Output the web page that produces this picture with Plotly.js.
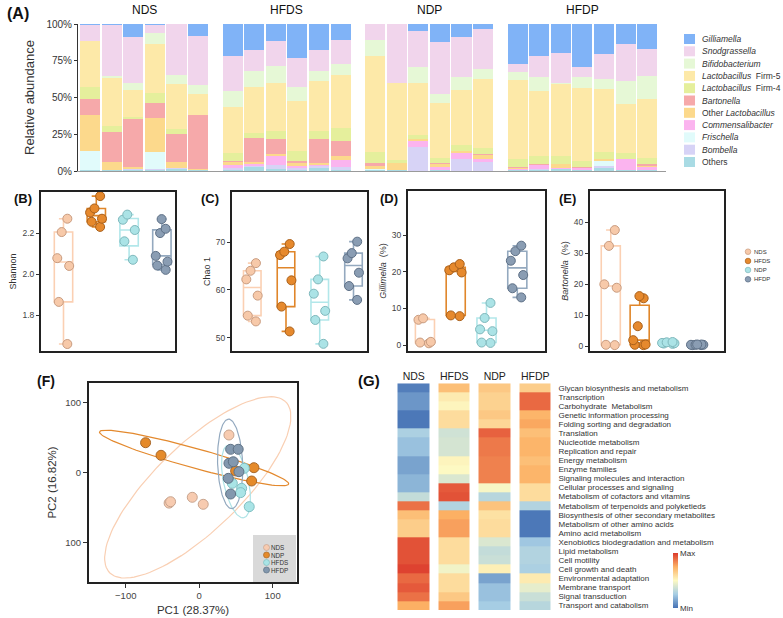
<!DOCTYPE html>
<html><head><meta charset="utf-8">
<script src="https://cdn.plot.ly/plotly-3.0.1.min.js"></script>
<style>html,body{margin:0;padding:0;background:#fff}#chart{width:783px;height:618px}</style>
</head><body><div id="chart"></div>
<script>
// ---------------- DATA ----------------
// Panel A: relative abundance (%) per sample; sample order NDS1-6, HFDS1-6, NDP1-6, HFDP1-7
const groups = ['NDS','HFDS','NDP','HFDP'];
const groupSizes = [6,6,6,7];
const gilliamella   = [1,0.7,8.7,1,0.3,8.4, 22.1,17.6,11.9,22.8,17.6,10.7, 0,0,4.6,12.3,8.9,3.2, 27.2,22.1,19.9,29,20.3,13.7,17.1];
const snodgrassella = [10.4,34.7,31.7,5.2,34.4,33.2, 23.6,14.4,16.6,19.9,14.4,16.7, 10.7,40.4,24.4,35,26.9,27.4, 5.7,14.2,20.1,6.8,17.1,24.9,18.3];
const bifidobacterium = [0,1.6,4.6,7.5,6.2,6.1, 10.7,10.7,11.9,9.6,6.6,7.3, 11,0,11,6.4,9.2,7.1, 5.2,9.1,0.5,7.6,7.1,16,15.3];
const lactoFirm5    = [31.3,32.6,18.2,32.9,30.8,13.9, 31.3,31.3,32.4,33.8,34.5,36.1, 65.5,52.1,35.8,37.6,37.6,46.8, 53.7,44.6,49,50,42.7,33.1,40.6];
const lactoFirm4    = [8.6,3.9,1.6,7.1,3,0.5, 5.2,3.6,5.3,7.3,5,8.9, 7.3,2,2.3,3.4,3.5,3.9, 5.7,5.2,5.7,4.1,4.6,4.1,3.9];
const bartonella    = [10.3,20.6,32.7,10,19.4,36.5, 1.2,16.5,10.3,1.3,16.4,10.3, 1.8,0,0,0.3,0,0.6, 0.4,0.7,0,0.7,0,0,1.1];
const otherLacto    = [24.5,5.2,1.1,23.5,4.1,0.7, 1.6,0.9,1.6,1.6,1.2,2.2, 2.3,4.6,1.8,2.5,1.6,2.8, 0.7,0,2.7,0,1.6,0,0.9];
const commensalibacter = [0,0,0,0,0,0, 2.2,1.8,5.7,1.9,1.1,5.3, 0,0,3.9,1.6,4.1,2.3, 0.5,2.7,0.5,0.9,0,7.5,1.9];
const frischella    = [13,0,0,11.4,0,0, 0,0,0,0,0,0, 0.5,0,0,0,0,0, 0,0,0,0,3.4,0,0];
const bombella      = [0.4,0.3,0.6,0.8,0.6,0.3, 1.2,0.7,2.9,0.9,0.9,1.6, 0.3,0,16,0.5,8,5.7, 0.5,0.7,0,0.5,1.4,0.3,0.5];
const others        = [0.5,0.4,0.8,0.6,1.2,0.4, 0.9,2.5,1.4,0.9,2.3,0.9, 0.6,0.9,0.2,0.4,0.2,0.2, 0.4,0.7,1.6,0.4,1.8,0.4,0.4];
const taxaLabels = ['<i>Gilliamella</i>','<i>Snodgrassella</i>','<i>Bifidobacterium</i>','<i>Lactobacillus</i>  Firm-5','<i>Lactobacillus</i>  Firm-4','<i>Bartonella</i>','Other <i>Lactobacillus</i>','<i>Commensalibacter</i>','<i>Frischella</i>','<i>Bombella</i>','Others'];
const taxaValues = [gilliamella,snodgrassella,bifidobacterium,lactoFirm5,lactoFirm4,bartonella,otherLacto,commensalibacter,frischella,bombella,others];
const taxaColors = ['#80b3f7','#f1d5ec','#e6f8d6','#fde9a8','#e5ef9c','#f6a9aa','#fcd98c','#fbb4ef','#e1fbfb','#d7d3f6','#a9dbe4'];

// Panels B-E (boxplots)
const boxGroups = ['NDS','HFDS','NDP','HFDP'];
const shannon = {NDS:[2.27,2.205,2.078,2.04,1.865,1.66], HFDS:[2.38,2.32,2.30,2.27,2.255,2.23], NDP:[2.29,2.265,2.215,2.16,2.07], HFDP:[2.268,2.221,2.2,2.089,2.061,2.042,2.021]};
const chao1   = {NDS:[65.6,64,62.2,58.8,54.6,53.4], HFDS:[69.6,68,67.3,62,56.5,51.3], NDP:[67,62.2,59.2,55.6,53.7,48.7], HFDP:[70.1,67.7,66.6,63.6,60.8,57.9]};
const gilliPct = {NDS:[7.3,6.9,0.9,0.7,0.5], HFDS:[22.1,21.2,20.4,19.8,8.1,7.9], NDP:[11.5,7.4,4.3,3.8,0.7,0.6], HFDP:[27.1,25.6,23,19.1,15.5,13]};
const bartPct  = {NDS:[37.4,32.3,19.9,18.8,0.4,0.3], HFDS:[16.1,15.4,6.4,1.9,0.4,0.3,0.5], NDP:[1.0,1.3,0.9,0.7,1.2,0.8], HFDP:[0.4,0.5,0.3,0.4,0.5,0.3,0.4]};
const boxLine  = ['#fbd0b3','#e0862a','#b2e7ea','#94a9bf'];
const boxFill  = ['#f7c9a9','#e6892d','#abe3e6','#8a9db3'];
const boxEdge  = ['#c99c80','#a9601b','#7fb8bc','#5e7086'];

// Panel F (PCA)
const pcaGroups = ['NDS','NDP','HFDS','HFDP'];
const pc1 = {NDS:[40.4,-41,-39,-9.5,5.4], NDP:[-73,-52,49.5,74.4,71.3], HFDS:[61.3,45,57.7,56.3,68], HFDP:[42.7,53,40.4,46.3,54,39.5,42.7]};
const pc2 = {NDS:[53.3,-44,-42,-35.7,-45.7], NDP:[42.3,24.3,2,6.6,-12.4], HFDS:[5.7,-15.7,-22.9,-29,-49.1], HFDP:[32.9,32.9,12.9,15.1,0.9,-8.6,-31]};
const ellCenterX = [-2,-7,50,42];
const ellCenterY = [-21.5,20.5,-13,12];
const ellSemiMajor = [171,134,53,64];
const ellSemiMinor = [60,14,17,17];
const ellAngle = [45.8,-16.2,-78.6,92];
const pcaFill = ['#f7cbb0','#e58a2a','#a9e4e6','#8398ae'];
const pcaEdge = ['#c8a48e','#a8682a','#80bfc2','#5f7285'];
const pcaLine = ['#f9cfb3','#e3892e','#aee3e6','#93a9bf'];

// Panel G (heatmap, scaled abundance)
const pathways = ['Glycan biosynthesis and metabolism','Transcription','Carbohydrate  Metabolism','Genetic information processing','Folding sorting and degradation','Translation','Nucleotide metabolism','Replication and repair','Energy metabolism','Enzyme families','Signaling molecules and interaction','Cellular processes and signaling','Metabolism of cofactors and vitamins','Metabolism of terpenoids and polyketieds','Biosynthesis of other secondary metabolites','Metabolism of other amino acids','Amino acid metabolism','Xenobiotics biodegradation and metabolism','Lipid metabolism','Cell motility','Cell growth and death','Environmental adaptation','Membrane transport','Signal transduction','Transport and catabolism'];
const heatNDS  = [-1.4,-1.2,-1.2,-1.45,-1.45,-0.7,-0.85,-0.85,-1.1,-1.1,-0.95,-0.95,-0.5,1.15,0.6,0.45,0.45,1.35,1.35,1.35,1.45,1.2,1.3,1.15,0.75];
const heatHFDS = [0.6,0.15,0.05,0.3,0.3,-0.4,-0.35,-0.35,0.05,0,-0.3,1.3,1.35,-0.65,0.75,0.85,0.85,0.3,0.3,0.3,-0.1,0.3,0.3,0.5,0.85];
const heatNDP  = [0.5,0.4,0.4,0.5,0.35,1.25,1.1,1.1,1.05,1.05,1.05,-0.05,-0.6,0.55,0.25,0.3,0.3,-0.3,-0.5,-0.45,0.1,-1.1,-0.85,-0.85,-0.75];
const heatHFDP = [0.45,1.2,1.2,0.7,0.8,0.6,0.7,0.7,0.6,0.7,0.7,0.3,0.3,-0.65,-1.45,-1.45,-1.45,-0.8,-0.65,-0.65,-0.7,0.15,-0.2,-0.45,-0.6];

// ---------------- BUILD ----------------
const W=783, H=618;
const fx = p => p/W, fy = p => 1 - p/H;
const FONT = 'Liberation Sans, Arial, Helvetica, sans-serif';
const traces = [], shapes = [], annotations = [];

// A: bar positions (group gap)
const xpos = []; const groupCenters = [];
let idx = 0;
groups.forEach((g,gi)=>{ const s=[]; for(let k=0;k<groupSizes[gi];k++){ const p=idx+k+gi*0.6; xpos.push(p); s.push(p);} idx+=groupSizes[gi]; groupCenters.push((s[0]+s[s.length-1])/2); });
for(let t=taxaValues.length-1;t>=0;t--){
  traces.push({type:'bar', x:xpos, y:taxaValues[t], width:0.93, marker:{color:taxaColors[t], line:{width:0}}, xaxis:'x', yaxis:'y', name:taxaLabels[t], hoverinfo:'y'});
}
groups.forEach((g,gi)=>annotations.push({xref:'x', yref:'paper', x:groupCenters[gi], y:fy(10), text:g, showarrow:false, font:{size:12, color:'#111'}, xanchor:'center', yanchor:'middle'}));
// A legend
taxaLabels.forEach((lab,i)=>{
  const yc = 39 + 12.3*i;
  shapes.push({type:'rect', xref:'paper', yref:'paper', x0:fx(684), x1:fx(695), y0:fy(yc-5), y1:fy(yc+5), fillcolor:taxaColors[i], line:{width:0}});
  annotations.push({xref:'paper', yref:'paper', x:fx(700), y:fy(yc), text:lab, showarrow:false, xanchor:'left', yanchor:'middle', font:{size:8.5, color:'#333'}});
});

// B-E boxplots
const boxPanels = [
  {data:shannon, xa:'x2', ya:'y2', w:0.56},
  {data:chao1, xa:'x3', ya:'y3', w:0.52},
  {data:gilliPct, xa:'x4', ya:'y4', w:0.62},
  {data:bartPct, xa:'x5', ya:'y5', w:0.66}
];
boxPanels.forEach(p=>{
  boxGroups.forEach((g,gi)=>{
    traces.push({type:'box', y:p.data[g], x0:gi, xaxis:p.xa, yaxis:p.ya, name:g, width:p.w, whiskerwidth:0.5,
      boxpoints:'all', jitter:0.8, pointpos:0, fillcolor:'rgba(0,0,0,0)', line:{color:boxLine[gi], width:1.6},
      marker:{color:boxFill[gi], size:9, line:{color:boxEdge[gi], width:1}}, hoverinfo:'y'});
  });
});
// B-E legend
boxGroups.forEach((g,gi)=>{
  const yc=[251.7,261,270,279.3][gi];
  shapes.push({type:'circle', xref:'paper', yref:'paper', xsizemode:'pixel', ysizemode:'pixel', xanchor:fx(748), yanchor:fy(yc), x0:-2.8, x1:2.8, y0:-2.8, y1:2.8, fillcolor:boxFill[gi], line:{color:boxEdge[gi], width:0.7}});
  annotations.push({xref:'paper', yref:'paper', x:fx(752), y:fy(yc), text:g, showarrow:false, xanchor:'left', yanchor:'middle', font:{size:6, color:'#333'}});
});

// F: ellipses then points
pcaGroups.forEach((g,gi)=>{
  const t = ellAngle[gi]*Math.PI/180, ex=[], ey=[];
  for(let i=0;i<=120;i++){ const th=2*Math.PI*i/120; const u=ellSemiMajor[gi]*Math.cos(th), v=ellSemiMinor[gi]*Math.sin(th);
    ex.push(ellCenterX[gi]+u*Math.cos(t)-v*Math.sin(t)); ey.push(ellCenterY[gi]+u*Math.sin(t)+v*Math.cos(t)); }
  traces.push({type:'scatter', mode:'lines', x:ex, y:ey, xaxis:'x6', yaxis:'y6', line:{color:pcaLine[gi], width:1.2}, hoverinfo:'skip'});
});
pcaGroups.forEach((g,gi)=>{
  traces.push({type:'scatter', mode:'markers', x:pc1[g], y:pc2[g], xaxis:'x6', yaxis:'y6', name:g,
    marker:{color:pcaFill[gi], size:10, line:{color:pcaEdge[gi], width:1}}});
});
shapes.push({type:'rect', xref:'paper', yref:'paper', x0:fx(253), x1:fx(296), y0:fy(582), y1:fy(535), fillcolor:'#d9d9d9', line:{width:0}});
pcaGroups.forEach((g,gi)=>{
  const yc=[547.5,555,562.5,570][gi];
  shapes.push({type:'circle', xref:'paper', yref:'paper', xsizemode:'pixel', ysizemode:'pixel', xanchor:fx(266.5), yanchor:fy(yc), x0:-3, x1:3, y0:-3, y1:3, fillcolor:pcaFill[gi], line:{color:pcaEdge[gi], width:0.7}});
  annotations.push({xref:'paper', yref:'paper', x:fx(269.5), y:fy(yc), text:g, showarrow:false, xanchor:'left', yanchor:'middle', font:{size:6.3, color:'#333'}, borderpad:0});
});

// G heatmap
const zMat = pathways.map((p,i)=>[heatNDS[i],heatHFDS[i],heatNDP[i],heatHFDP[i]]);
traces.push({type:'heatmap', z:zMat, x:groups, y:pathways, xaxis:'x7', yaxis:'y7', xgap:9, ygap:0, zmin:-1.5, zmax:1.5,
  colorscale:[[0,'#4672b5'],[0.25,'#a6cde4'],[0.5,'#fdf9c3'],[0.75,'#fcb064'],[1,'#dc3a2c']],
  colorbar:{x:fx(673), xanchor:'left', y:fy(608), yanchor:'bottom', len:55/H, lenmode:'fraction', thickness:5, thicknessmode:'pixels', outlinewidth:0, xpad:0, ypad:0,
    tickvals:[-1.5,1.5], ticktext:['Min','Max'], ticks:'', tickfont:{size:8, color:'#333'}}, hoverinfo:'z'});

// Panel letters
[['(A)',5,14,16],['(B)',12,198,13],['(C)',199,198,13],['(D)',378,198,13],['(E)',557,198,13],['(F)',35,381,14],['(G)',356,380,15]].forEach(a=>{
  annotations.push({xref:'paper', yref:'paper', x:fx(a[1]), y:fy(a[2]), text:'<b>'+a[0]+'</b>', showarrow:false, xanchor:'left', yanchor:'middle', font:{size:a[3], color:'#111'}});
});

// ---------------- AXES ----------------
const frame = {showline:true, mirror:true, linecolor:'#222', linewidth:2, showgrid:false, zeroline:false};
const tickY = {ticks:'outside', ticklen:3, tickcolor:'#333', tickwidth:1, tickfont:{size:8.5, color:'#444'}};
const noX = {showticklabels:false, ticks:''};
const layout = {
  width:W, height:H, margin:{l:0,r:0,t:0,b:0}, paper_bgcolor:'#fff', plot_bgcolor:'rgba(0,0,0,0)',
  font:{family:FONT, color:'#333'}, showlegend:false, barmode:'stack',
  xaxis:{domain:[fx(78),fx(666)], range:[-0.56,26.67], showline:true, linecolor:'#9a9a9a', linewidth:1, showticklabels:false, ticks:'', showgrid:false, zeroline:false, fixedrange:true, anchor:'y'},
  yaxis:{domain:[fy(171),fy(24)], range:[0,100], tickvals:[0,25,50,75,100], ticktext:['0%','25%','50%','75%','100%'], ticks:'outside', ticklen:3, tickcolor:'#333',
    showline:true, linecolor:'#333', linewidth:1, showgrid:false, zeroline:false, tickfont:{size:10, color:'#333'}, title:{text:'Relative abundance', font:{size:13, color:'#333'}, standoff:8}, anchor:'x'},
  xaxis2:Object.assign({domain:[fx(41),fx(175)], range:[-0.686,3.4], anchor:'y2'}, frame, noX),
  yaxis2:Object.assign({domain:[fy(351),fy(192)], range:[1.626,2.40], tickvals:[1.8,2.0,2.2], ticktext:['1.8','2.0','2.2'], anchor:'x2', title:{text:'Shannon', font:{size:9, color:'#333'}, standoff:4}}, frame, tickY),
  xaxis3:Object.assign({domain:[fx(232),fx(367)], range:[-0.6,3.4], anchor:'y3'}, frame, noX),
  yaxis3:Object.assign({domain:[fy(351),fy(192)], range:[47.2,80.5], tickvals:[50,60,70], anchor:'x3', title:{text:'Chao 1', font:{size:9, color:'#333'}, standoff:4}}, frame, tickY),
  xaxis4:Object.assign({domain:[fx(408),fx(545)], range:[-0.55,3.9], anchor:'y4'}, frame, noX),
  yaxis4:Object.assign({domain:[fy(351),fy(191)], range:[-1.6,42], tickvals:[0,10,20,30], anchor:'x4', title:{text:'<i>Gillimella</i>  (%)', font:{size:9, color:'#333'}, standoff:4}}, frame, tickY),
  xaxis5:Object.assign({domain:[fx(590),fx(724)], range:[-0.72,3.92], anchor:'y5'}, frame, noX),
  yaxis5:Object.assign({domain:[fy(351),fy(191)], range:[-1.6,50], tickvals:[0,10,20,30,40], anchor:'x5', title:{text:'<i>Bartonella</i>  (%)', font:{size:9, color:'#333'}, standoff:4}}, frame, tickY),
  xaxis6:Object.assign({domain:[fx(89),fx(297)], range:[-150,133], tickvals:[-100,0,100], ticks:'outside', ticklen:4, tickcolor:'#333', tickfont:{size:9.5, color:'#444'}, anchor:'y6', title:{text:'PC1 (28.37%)', font:{size:11.5, color:'#333'}, standoff:6}}, frame),
  yaxis6:Object.assign({domain:[fy(582),fy(383)], range:[-156.7,127.6], tickvals:[-100,0,100], ticktext:['100','0','100'], ticks:'outside', ticklen:4, tickcolor:'#333', tickfont:{size:9.5, color:'#444'}, anchor:'x6', title:{text:'PC2 (16.82%)', font:{size:11.5, color:'#333'}, standoff:6}}, frame),
  xaxis7:{domain:[fx(393.5),fx(555.5)], side:'top', ticks:'', showline:false, showgrid:false, zeroline:false, tickfont:{size:10.5, color:'#222'}, anchor:'y7', fixedrange:true},
  yaxis7:{domain:[fy(610),fy(383.3)], side:'right', autorange:'reversed', tickmode:'array', tickvals:pathways, ticktext:pathways, ticks:'', showline:false, showgrid:false, zeroline:false, tickfont:{size:8, color:'#333'}, ticklabelstandoff:2, anchor:'x7', fixedrange:true},
  shapes:shapes, annotations:annotations
};
Plotly.newPlot('chart', traces, layout, {staticPlot:true, displayModeBar:false});
</script></body></html>
